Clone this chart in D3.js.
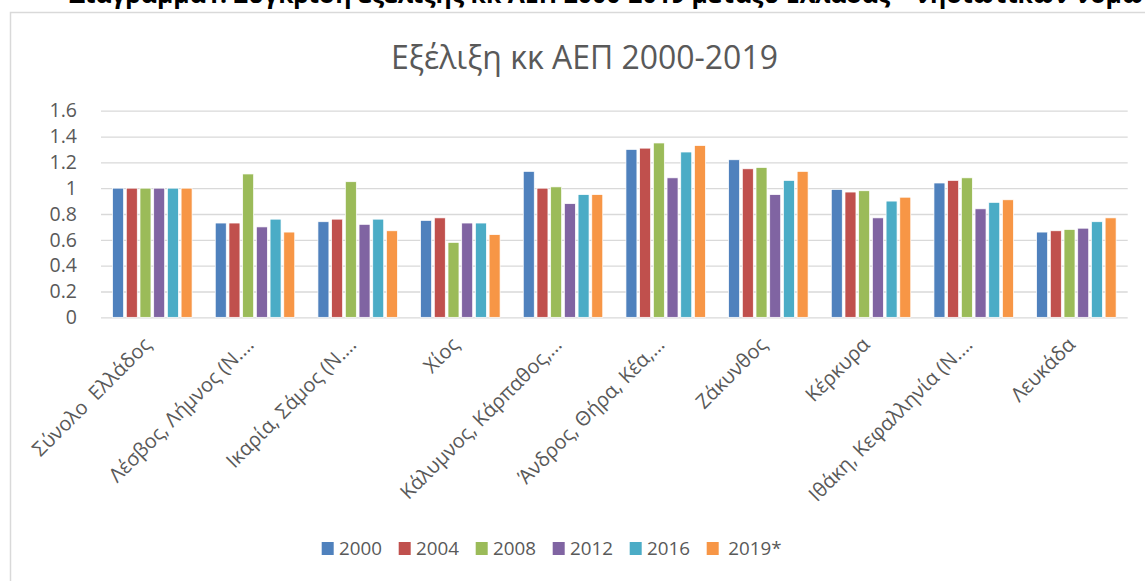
<!DOCTYPE html>
<html>
<head>
<meta charset="utf-8">
<script src="https://cdn.jsdelivr.net/npm/d3@7"></script>
<style>
  body { margin: 0; background: #fff; }
  svg { display: block; }
</style>
</head>
<body>
<svg id="chart" width="1145" height="581"></svg>
<script>
// categories (labels as shown, truncated like the original)
var regions = [
  "Σύνολο  Ελλάδος",
  "Λέσβος, Λήμνος (Ν.…",
  "Ικαρία, Σάμος (Ν.…",
  "Χίος",
  "Κάλυμνος, Κάρπαθος,…",
  "Άνδρος, Θήρα, Κέα,…",
  "Ζάκυνθος",
  "Κέρκυρα",
  "Ιθάκη, Κεφαλληνία (Ν.…",
  "Λευκάδα"
];

var years = ["2000", "2004", "2008", "2012", "2016", "2019*"];

// one array per year, in region order
var v2000 = [1.00, 0.73, 0.74, 0.75, 1.13, 1.30, 1.22, 0.99, 1.04, 0.66];
var v2004 = [1.00, 0.73, 0.76, 0.77, 1.00, 1.31, 1.15, 0.97, 1.06, 0.67];
var v2008 = [1.00, 1.11, 1.05, 0.58, 1.01, 1.35, 1.16, 0.98, 1.08, 0.68];
var v2012 = [1.00, 0.70, 0.72, 0.73, 0.88, 1.08, 0.95, 0.77, 0.84, 0.69];
var v2016 = [1.00, 0.76, 0.76, 0.73, 0.95, 1.28, 1.06, 0.90, 0.89, 0.74];
var v2019 = [1.00, 0.66, 0.67, 0.64, 0.95, 1.33, 1.13, 0.93, 0.91, 0.77];

var yTicks = [0, 0.2, 0.4, 0.6, 0.8, 1, 1.2, 1.4, 1.6];

var colors = ["#4f81bd", "#c0504d", "#9bbb59", "#8064a2", "#4bacc6", "#f79646"];

var series = [v2000, v2004, v2008, v2012, v2016, v2019];

var drawChart = function() {
  let svg = d3.select("#chart");
  let font = "'Open Sans', 'Noto Sans', sans-serif";

  // outer frame of the excel chart (runs past the right/bottom edges)
  svg.append("rect")
  .attr("x", 10.5)
  .attr("y", 12.5)
  .attr("width", 1150)
  .attr("height", 600)
  .attr("fill", "none")
  .attr("stroke", "#d9d9d9")
  .attr("stroke-width", 1.5);

  // caption above the chart, cut off by the top of the image
  svg.append("text")
  .text("Διάγραμμα1: Σύγκριση εξέλιξης κκ ΑΕΠ 2000-2019 μεταξύ Ελλάδας – νησιωτικών νομών")
  .attr("x", 69)
  .attr("y", 3)
  .style("font-family", font)
  .style("font-weight", "bold")
  .style("font-size", "24.8px")
  .style("fill", "#000");

  // plot area
  let plotLeft = 101, plotRight = 1127.7;
  let plotTop = 110.7, plotBottom = 317.3;

  let yScale = d3.scaleLinear()
  .domain([0, 1.6])
  .range([plotBottom, plotTop]);

  let xScale = d3.scaleBand()
  .domain(regions)
  .range([plotLeft, plotRight])
  .paddingInner(0.226)
  .paddingOuter(0.113);

  let inner = d3.scaleBand()
  .domain(years)
  .range([0, xScale.bandwidth()])
  .paddingInner(0.2);

  // gridlines + y labels
  let yAxis = d3.axisLeft(yScale)
  .tickValues(yTicks)
  .tickSize(-(plotRight - plotLeft))
  .tickPadding(24)
  .tickFormat(d3.format("~g"));

  let yGroup = svg.append("g")
  .attr("transform", "translate(" + plotLeft + ",0)")
  .call(yAxis);
  yGroup.select(".domain").remove();
  yGroup.selectAll(".tick line")
  .attr("stroke", "#d9d9d9")
  .attr("stroke-width", 1.3);
  yGroup.selectAll(".tick text")
  .style("font-family", font)
  .style("font-size", "19.5px")
  .style("fill", "#595959");

  // bars
  let groups = svg.selectAll("g.series")
  .data(series)
  .enter().append("g")
  .attr("class", "series")
  .attr("fill", (d, i) => colors[i]);

  groups.selectAll("rect")
  .data((d, i) => d.map((v, j) => ({ region: regions[j], year: years[i], value: v })))
  .enter().append("rect")
  .attr("x", (d) => xScale(d.region) + inner(d.year))
  .attr("y", (d) => yScale(d.value))
  .attr("width", inner.bandwidth())
  .attr("height", (d) => yScale(0) - yScale(d.value))
  .attr("stroke", "#fff")
  .attr("stroke-width", 0.7);

  // category labels, rotated
  svg.append("g").selectAll("text")
  .data(regions)
  .enter().append("text")
  .text((d) => d)
  .attr("transform", (d) => "translate(" + (xScale(d) + xScale.bandwidth() / 2 - 5) + "," + 341 + ") rotate(-45)")
  .attr("text-anchor", "end")
  .attr("dy", "0.35em")
  .style("white-space", "pre")
  .style("font-family", font)
  .style("font-size", "20px")
  .style("fill", "#595959");

  // chart title, sized to the original width
  let title = svg.append("text")
  .text("Εξέλιξη κκ ΑΕΠ 2000-2019")
  .attr("x", 584.5)
  .attr("y", 69.3)
  .attr("text-anchor", "middle")
  .style("font-family", font)
  .style("font-size", "30px")
  .style("fill", "#595959");
  let tw = title.node().getComputedTextLength();
  title.style("font-size", (30 * 387 / tw) + "px");

  // legend
  let legendScale = d3.scaleBand()
  .domain(years)
  .range([321.7, 321.7 + 77 * years.length]);

  let legend = svg.append("g").selectAll("g")
  .data(years)
  .enter().append("g")
  .attr("transform", (d) => "translate(" + legendScale(d) + ",548.5)");

  legend.append("rect")
  .attr("x", 0)
  .attr("y", -6.5)
  .attr("width", 12)
  .attr("height", 13)
  .attr("fill", (d, i) => colors[i]);

  legend.append("text")
  .text((d) => d)
  .attr("x", (d, i) => i == years.length - 1 ? 21.5 : 17.3)
  .attr("dy", "0.35em")
  .style("font-family", font)
  .style("font-size", "18.8px")
  .style("fill", "#595959");
}

drawChart();
</script>
</body>
</html>
